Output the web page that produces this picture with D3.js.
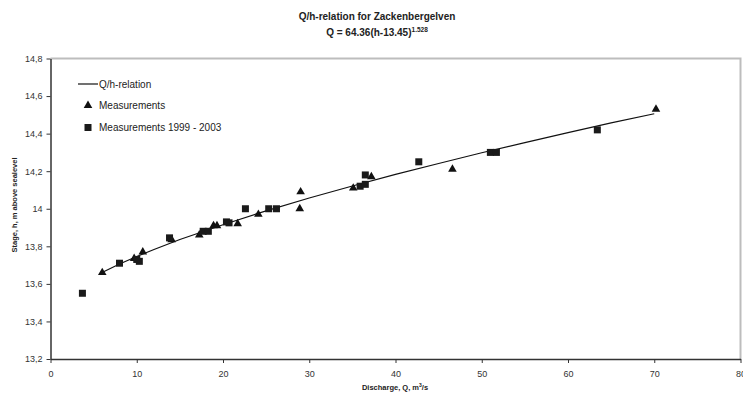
<!DOCTYPE html>
<html>
<head>
<meta charset="utf-8">
<script src="https://cdn.jsdelivr.net/npm/d3@7"></script>
<style>
  html, body { margin: 0; padding: 0; background: #fff; }
  svg { display: block; font-family: "Liberation Sans", Arial, sans-serif; }
</style>
</head>
<body>
<svg id="chart" width="743" height="394"></svg>
<script>
// Rating curve Q/h for Zackenbergelven
const curveQ = [5.8, 8, 10, 12, 15, 20, 25, 30, 35, 40, 45, 50, 55, 60, 65, 70];
const curveH = [13.657, 13.706, 13.746, 13.783, 13.836, 13.915, 13.989, 14.057, 14.121, 14.183, 14.241, 14.298, 14.352, 14.405, 14.457, 14.506];

// Measurements (triangles)
const measQ = [6.0, 9.7, 10.7, 14.05, 17.25, 18.9, 19.3, 21.7, 24.1, 28.9, 29.0, 35.1, 37.2, 46.6, 70.2];
const measH = [13.66, 13.735, 13.77, 13.835, 13.86, 13.91, 13.91, 13.92, 13.97, 14.0, 14.09, 14.11, 14.17, 14.21, 14.53];

// Measurements 1999 - 2003 (squares)
const meas99Q = [3.7, 8.0, 10.0, 10.3, 13.8, 17.7, 18.3, 20.4, 20.7, 22.6, 25.3, 26.2, 35.9, 36.5, 36.5, 42.7, 51.0, 51.7, 63.4];
const meas99H = [13.55, 13.71, 13.73, 13.72, 13.845, 13.88, 13.88, 13.93, 13.925, 14.0, 14.0, 14.0, 14.12, 14.13, 14.18, 14.25, 14.30, 14.30, 14.42];

const xTicks = [0, 10, 20, 30, 40, 50, 60, 70, 80];
const yTicks = [13.2, 13.4, 13.6, 13.8, 14.0, 14.2, 14.4, 14.6, 14.8];
const yTickLabels = ["13,2", "13,4", "13,6", "13,8", "14", "14,2", "14,4", "14,6", "14,8"];

const svg = d3.select("#chart");
const plotLeft = 50.5, plotRight = 740.5, plotTop = 58.5, plotBottom = 359;

const x = d3.scaleLinear().domain([0, 80]).range([plotLeft, plotRight]);
const y = d3.scaleLinear().domain([13.2, 14.8]).range([plotBottom, plotTop]);

// plot area frame (top and right edges)
svg.append("path")
  .attr("d", `M${plotLeft},${plotTop}H${plotRight}V${plotBottom}`)
  .attr("fill", "none").attr("stroke", "#bdbdbd").attr("stroke-width", 2);

// axes
const xAxis = d3.axisBottom(x).tickValues(xTicks).tickSize(4).tickSizeOuter(0).tickPadding(8);
const gx = svg.append("g").attr("transform", `translate(0,${plotBottom})`).call(xAxis);
const yAxis = d3.axisLeft(y).tickValues(yTicks).tickSize(4).tickSizeOuter(0).tickPadding(4)
  .tickFormat((d, i) => yTickLabels[i]);
const gy = svg.append("g").attr("transform", `translate(${plotLeft},0)`).call(yAxis);

[gx, gy].forEach(g => {
  g.select(".domain").attr("stroke", "#333").attr("stroke-width", 1.5);
  g.selectAll(".tick line").attr("stroke", "#333");
  g.selectAll(".tick text").attr("fill", "#333").attr("font-size", 9)
    .attr("font-family", "Liberation Sans, Arial, sans-serif");
});

// rating curve
const line = d3.line().x((d, i) => x(curveQ[i])).y((d, i) => y(curveH[i]));
svg.append("path").datum(curveQ).attr("d", line)
  .attr("fill", "none").attr("stroke", "#111").attr("stroke-width", 1.2);

// markers
const tri = d3.symbol().type(d3.symbolTriangle).size(32);
svg.append("g").selectAll("path").data(measQ).join("path")
  .attr("d", tri)
  .attr("transform", (d, i) => `translate(${x(d)},${y(measH[i])})`)
  .attr("fill", "#111");

const sq = 7;
svg.append("g").selectAll("rect").data(meas99Q).join("rect")
  .attr("x", d => x(d) - sq / 2)
  .attr("y", (d, i) => y(meas99H[i]) - sq / 2)
  .attr("width", sq).attr("height", sq)
  .attr("fill", "#1a1a1a");

// legend
const lg = svg.append("g").attr("font-size", 10).attr("fill", "#222");
lg.append("line").attr("x1", 78).attr("x2", 98).attr("y1", 84).attr("y2", 84)
  .attr("stroke", "#111").attr("stroke-width", 1.2);
lg.append("text").attr("x", 99).attr("y", 84).attr("dy", "0.35em").text("Q/h-relation");
lg.append("path").attr("d", tri).attr("transform", "translate(88,105.5)").attr("fill", "#111");
lg.append("text").attr("x", 99).attr("y", 105.5).attr("dy", "0.35em").text("Measurements");
lg.append("rect").attr("x", 88 - sq / 2).attr("y", 127.5 - sq / 2).attr("width", sq).attr("height", sq).attr("fill", "#1a1a1a");
lg.append("text").attr("x", 99).attr("y", 127.5).attr("dy", "0.35em").text("Measurements 1999 - 2003");

// titles
svg.append("text").attr("x", 377).attr("y", 20).attr("text-anchor", "middle")
  .attr("font-size", 10).attr("font-weight", "bold").attr("fill", "#222")
  .text("Q/h-relation for Zackenbergelven");
const t2 = svg.append("text").attr("x", 377).attr("y", 36).attr("text-anchor", "middle")
  .attr("font-size", 10).attr("font-weight", "bold").attr("fill", "#222");
t2.append("tspan").text("Q = 64.36(h-13.45)");
t2.append("tspan").attr("font-size", 6.5).attr("dy", -4).text("1.528");

svg.append("text").attr("transform", "translate(17,205) rotate(-90)")
  .attr("text-anchor", "middle").attr("font-size", 7.5).attr("font-weight", "bold").attr("fill", "#222")
  .text("Stage, h, m above sealevel");

const xl = svg.append("text").attr("x", 395).attr("y", 390).attr("text-anchor", "middle")
  .attr("font-size", 7.5).attr("font-weight", "bold").attr("fill", "#222");
xl.append("tspan").text("Discharge, Q, m");
xl.append("tspan").attr("font-size", 5).attr("dy", -3).text("3");
xl.append("tspan").attr("dy", 3).text("/s");
</script>
</body>
</html>
